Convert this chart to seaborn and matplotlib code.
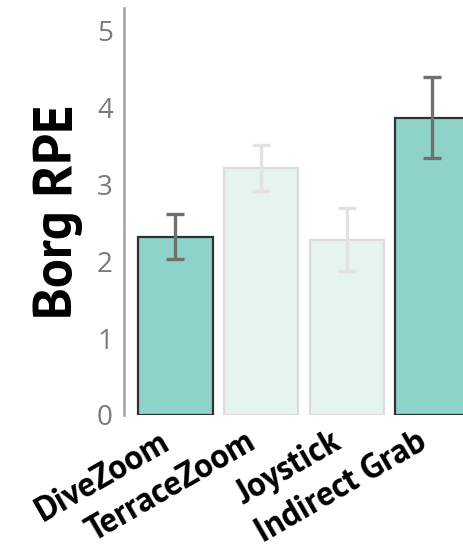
import matplotlib
matplotlib.use("Agg")
import matplotlib.pyplot as plt
import seaborn as sns

# values
techniques = ["DiveZoom", "TerraceZoom", "Joystick", "Indirect Grab"]
borg_mean = [2.32, 3.22, 2.28, 3.87]
borg_err = [0.29, 0.30, 0.41, 0.53]
highlighted = [True, False, False, True]

sns.set_style("white")
plt.rcParams["font.family"] = ["Open Sans", "DejaVu Sans"]
label_font = ["PT Sans", "Open Sans", "DejaVu Sans"]

fig = plt.figure(figsize=(4.63, 5.54), dpi=100)
ax = fig.add_axes([0.268, 0.251, 0.777, 0.735])

fill = ["#8dd3c7" if h else "#e5f4f1" for h in highlighted]
sns.barplot(x=techniques, y=borg_mean, hue=techniques, palette=fill,
            saturation=1, width=0.87, legend=False, ax=ax, errorbar=None)

for patch, h in zip(ax.patches, highlighted):
    patch.set_edgecolor("#303030" if h else "#dcdcdc")
    patch.set_linewidth(1.6)

for i, (m, e, h) in enumerate(zip(borg_mean, borg_err, highlighted)):
    ax.errorbar(i, m, yerr=e, fmt="none",
                ecolor="#707070" if h else "#e2e2e2",
                elinewidth=2.4, capsize=6.5, capthick=2.4, zorder=5)

ax.set_xlim(-0.6, 3.6)
ax.set_ylim(0, 5.3)
ax.set_yticks([0, 1, 2, 3, 4, 5])
ax.tick_params(axis="y", length=0, labelsize=20, labelcolor="#7a7a7a", pad=8)
ax.tick_params(axis="x", length=0, pad=8)
ax.set_xticks(range(len(techniques)))
ax.set_xticklabels(techniques, rotation=30, ha="right", fontsize=25,
                   fontweight="bold", color="black", family=label_font)

ax.set_ylabel("Borg RPE", fontsize=39, fontweight="bold", color="black",
              labelpad=10, family=label_font)
ax.set_xlabel("")

for side in ["top", "right", "bottom"]:
    ax.spines[side].set_visible(False)
ax.spines["left"].set_color("#a0a0a0")
ax.spines["left"].set_linewidth(1.8)

fig.savefig("out.png", dpi=100)
